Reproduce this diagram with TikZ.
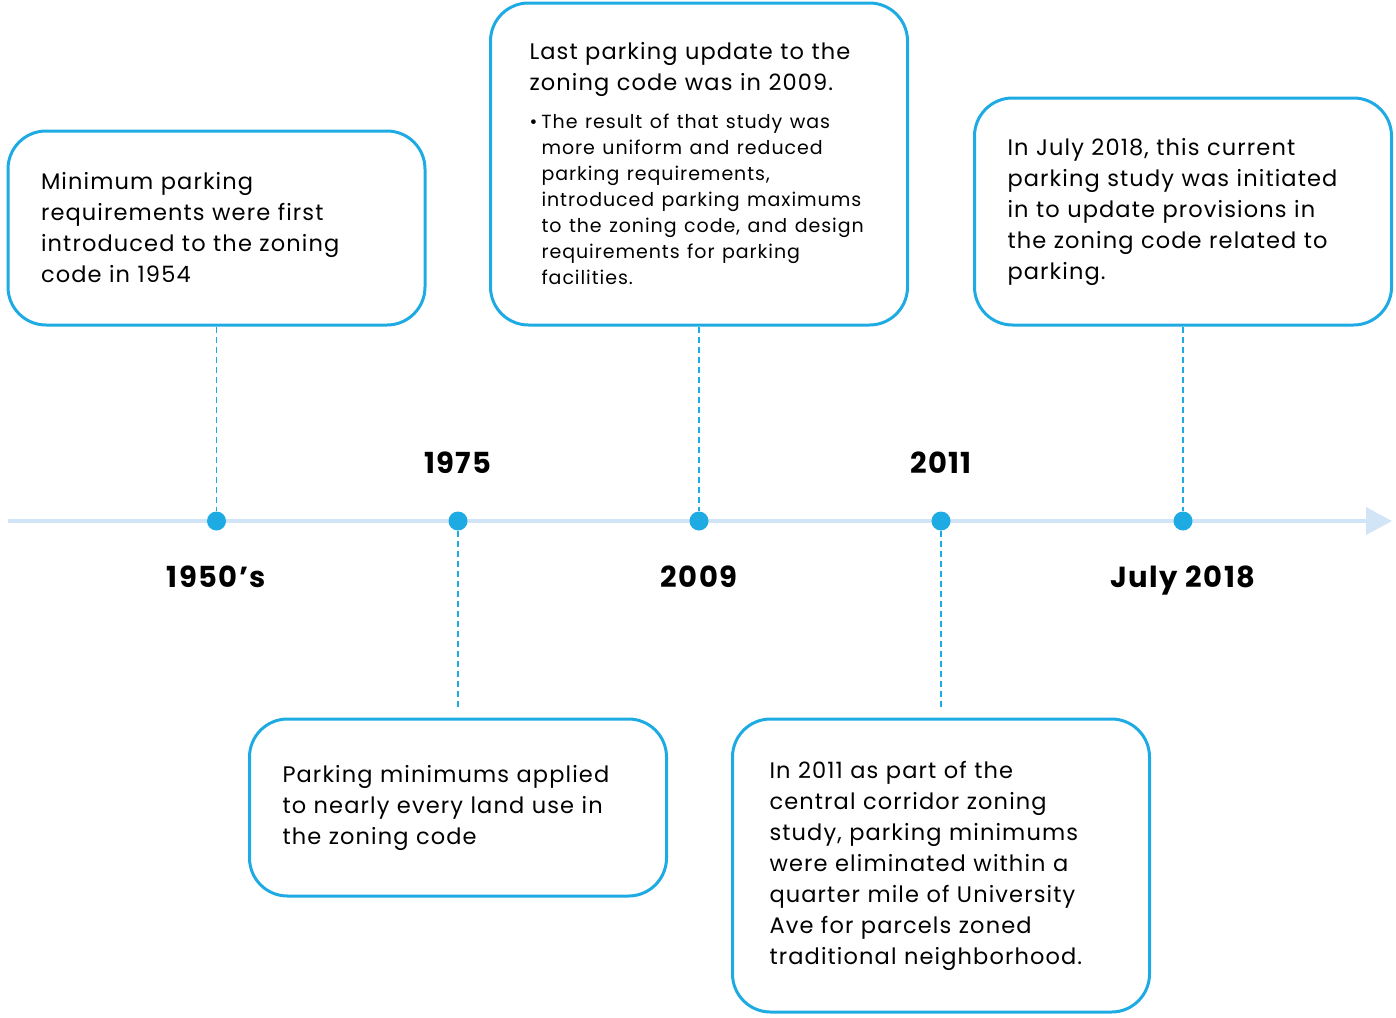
\documentclass[tikz,border=0pt]{standalone}
\usepackage{fontspec}
\setmainfont{Poppins}[LetterSpace=5]
\usetikzlibrary{arrows.meta}
\definecolor{linkblue}{HTML}{1EABE3}
\definecolor{axisblue}{HTML}{D2E5F6}
\tikzset{
  event/.style={draw=linkblue, line width=3pt, rounded corners=38pt, text width=351pt,
    inner xsep=33pt, inner ysep=0pt, align=left, font=\fontsize{22.5}{31}\selectfont},
  yearlbl/.style={font=\fontsize{29}{32}\selectfont\bfseries, text height=21pt, text depth=7pt},
  dot/.style={circle, fill=linkblue, minimum size=19pt, inner sep=0pt},
  guide/.style={draw=linkblue, line width=1.6pt, dash pattern=on 6pt off 4pt},
  axis/.style={draw=axisblue, line width=4pt, -{Triangle[length=26pt, width=27pt]}}
}
\begin{document}
\begin{tikzpicture}[x=1pt, y=-1pt]
  \useasboundingbox (0,0) rectangle (1396,1017);

  % timeline
  \coordinate (tstart) at (8,521);
  \coordinate (tend) at (1392,521);
  \draw[axis] (tstart) -- (tend);

  % events above the line
  \node[event, minimum height=194pt] (b1950) at (216.5,228)
    {Minimum parking\\ requirements were first\\ introduced to the zoning\\ code in 1954};
  \node[event, minimum height=322pt, inner xsep=39pt, text width=339pt] (b2009) at (699,164)
    {Last parking update to the\\ zoning code was in 2009.\par
     \vspace{12pt}
     {\fontsize{19}{26}\selectfont\makebox[12pt][l]{\textbullet}\parbox[t]{325pt}{\raggedright
      The result of that study was\\ more uniform and reduced\\
      parking requirements,\\ introduced parking maximums\\ to the zoning code, and design\\
      requirements for parking\\ facilities.}\par}};
  \node[event, minimum height=227pt] (b2018) at (1183,211.5)
    {In July 2018, this current\\ parking study was initiated\\ in to update provisions in\\
     the zoning code related to\\ parking.};

  % events below the line
  \node[event, minimum height=177pt] (b1975) at (458,807.5)
    {Parking minimums applied\\ to nearly every land use in\\ the zoning code};
  \node[event, minimum height=293pt, inner xsep=37pt, text width=343pt] (b2011) at (941,865.5)
    {In 2011 as part of the\\ central corridor zoning\\ study, parking minimums\\
     were eliminated within a\\ quarter mile of University\\ Ave for parcels zoned\\
     traditional neighborhood.};

  % dots on the line
  \node[dot] (d1950) at (216.5,521) {};
  \node[dot] (d1975) at (458,521) {};
  \node[dot] (d2009) at (699,521) {};
  \node[dot] (d2011) at (941,521) {};
  \node[dot] (d2018) at (1183,521) {};

  \draw[guide] (b1950) -- (d1950);
  \draw[guide] (b2009) -- (d2009);
  \draw[guide] (b2018) -- (d2018);
  \draw[guide, shorten >=7pt] (d1975) -- (b1975);
  \draw[guide, shorten >=7pt] (d2011) -- (b2011);

  % years
  \node[yearlbl] (y1950) at (216.5,580) {1950’s};
  \node[yearlbl] (y1975) at (458,466) {1975};
  \node[yearlbl] (y2009) at (699,580) {2009};
  \node[yearlbl] (y2011) at (941,466) {2011};
  \node[yearlbl] (y2018) at (1183,580) {July 2018};
\end{tikzpicture}
\end{document}
